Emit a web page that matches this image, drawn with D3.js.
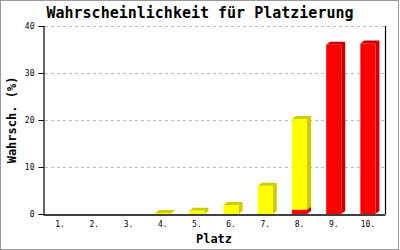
<!DOCTYPE html>
<html>
<head>
<meta charset="utf-8">
<script src="https://cdn.jsdelivr.net/npm/d3@7"></script>
<style>
  body { margin: 0; background: #fff; }
  text { font-family: "DejaVu Sans Mono", "Liberation Mono", monospace; }
</style>
</head>
<body>
<div id="chart"></div>
<script>
// Data
var places = ["1.", "2.", "3.", "4.", "5.", "6.", "7.", "8.", "9.", "10."];
var sicher = [0, 0, 0, 0, 0, 0, 0, 0.9, 36.0, 36.3];   // red, bottom part
var moeglich = [0, 0, 0, 0.2, 0.7, 1.9, 6.0, 19.3, 0, 0]; // yellow, stacked on top
var yTicks = [0, 10, 20, 30, 40];

var w = 400, h = 250;
var margin = { left: 43, right: 15, top: 26, bottom: 36 };
var depthX = 4, depthY = 3; // fake 3d offset

var svg = d3.select("#chart").append("svg")
    .attr("width", w)
    .attr("height", h);

// frame round the picture
svg.append("rect")
    .attr("x", 0.5).attr("y", 0.5)
    .attr("width", w - 2).attr("height", h - 1)
    .attr("fill", "#fff")
    .attr("stroke", "#999");

var xScale = d3.scaleBand()
    .domain(places)
    .range([margin.left, w - margin.right])
    .paddingInner(0.56)
    .paddingOuter(0.28);

var yScale = d3.scaleLinear()
    .domain([0, 40])
    .range([h - margin.bottom, margin.top]);

// dashed grid lines
svg.append("g")
    .selectAll("line")
    .data(yTicks.slice(1))
    .enter()
    .append("line")
    .attr("x1", margin.left + 2)
    .attr("x2", w - margin.right)
    .attr("y1", function (d) { return Math.round(yScale(d)) + 0.5; })
    .attr("y2", function (d) { return Math.round(yScale(d)) + 0.5; })
    .attr("stroke", "#bbb")
    .attr("stroke-dasharray", "3,3");

// stack the two series
var rows = places.map(function (p, i) {
    return { place: p, sicher: sicher[i], moeglich: moeglich[i] };
});
var stacked = d3.stack().keys(["sicher", "moeglich"])(rows);
var colors = {
    sicher: { front: "#ff0000", side: "#cc0000" },
    moeglich: { front: "#ffff00", side: "#cccc00" }
};

var bw = xScale.bandwidth();

stacked.forEach(function (layer) {
    var c = colors[layer.key];
    var g = svg.append("g");
    layer.forEach(function (d) {
        if (d[1] - d[0] <= 0) return;
        var x0 = xScale(d.data.place);
        var yTop = yScale(d[1]);
        var yBot = yScale(d[0]);
        // side + top (depth)
        g.append("path")
            .attr("d", "M" + x0 + "," + yTop +
                " L" + (x0 + depthX) + "," + (yTop - depthY) +
                " L" + (x0 + bw + depthX) + "," + (yTop - depthY) +
                " L" + (x0 + bw + depthX) + "," + (yBot - depthY) +
                " L" + (x0 + bw) + "," + yBot +
                " L" + (x0 + bw) + "," + yTop + " Z")
            .attr("fill", c.side);
        // front face
        g.append("rect")
            .attr("x", x0)
            .attr("y", yTop)
            .attr("width", bw)
            .attr("height", Math.max(0, yBot - yTop))
            .attr("fill", c.front);
    });
});

// y axis
var yAxis = d3.axisLeft(yScale)
    .tickValues(yTicks)
    .tickSize(5)
    .tickPadding(4);
var gy = svg.append("g")
    .attr("transform", "translate(" + (margin.left + 0.5) + ",0)")
    .call(yAxis);
gy.select(".domain").attr("stroke-width", 1.2);
gy.selectAll("text").attr("font-size", 8).attr("font-family", "DejaVu Sans Mono");

// right frame line
svg.append("line")
    .attr("x1", w - margin.right + 0.5).attr("x2", w - margin.right + 0.5)
    .attr("y1", margin.top).attr("y2", h - margin.bottom)
    .attr("stroke", "#000").attr("stroke-width", 1.2);

// x axis
var xAxis = d3.axisBottom(xScale).tickSize(0).tickPadding(7);
var gx = svg.append("g")
    .attr("transform", "translate(0," + (h - margin.bottom + 0.5) + ")")
    .call(xAxis);
gx.select(".domain").attr("stroke-width", 1.5);
gx.selectAll("text").attr("font-size", 8).attr("font-family", "DejaVu Sans Mono");

// title
svg.append("text")
    .attr("x", 200)
    .attr("y", 18)
    .attr("text-anchor", "middle")
    .attr("font-size", 15)
    .attr("font-weight", "bold")
    .text("Wahrscheinlichkeit für Platzierung");

// axis titles
svg.append("text")
    .attr("x", (margin.left + w - margin.right) / 2)
    .attr("y", 243)
    .attr("text-anchor", "middle")
    .attr("font-size", 12)
    .attr("font-weight", "bold")
    .text("Platz");

svg.append("text")
    .attr("transform", "translate(16," + ((margin.top + h - margin.bottom) / 2) + ") rotate(-90)")
    .attr("text-anchor", "middle")
    .attr("font-size", 12)
    .attr("font-weight", "bold")
    .text("Wahrsch. (%)");
</script>
</body>
</html>
